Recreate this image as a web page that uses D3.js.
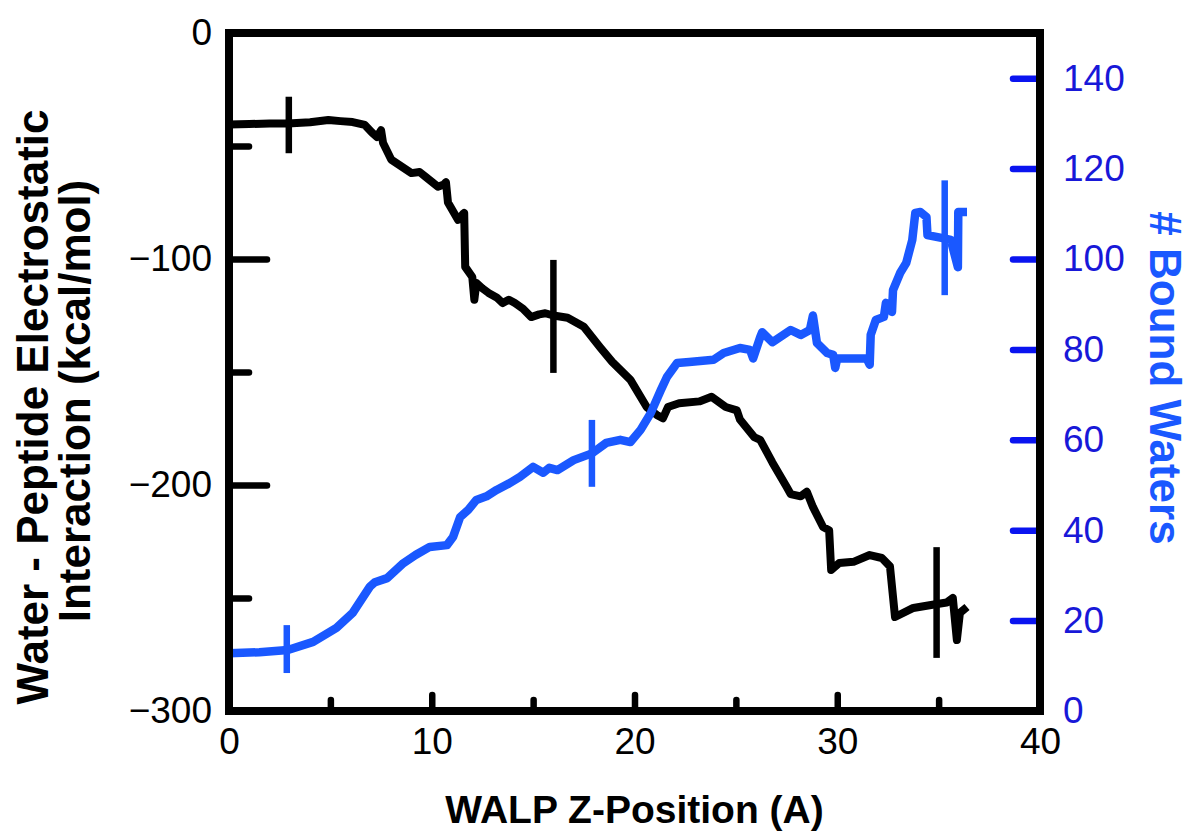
<!DOCTYPE html>
<html>
<head>
<meta charset="utf-8">
<script src="https://cdn.jsdelivr.net/npm/d3@7"></script>
<style>
  body { margin: 0; background: #fff; }
  svg { display: block; font-family: "Liberation Sans", Arial, Helvetica, sans-serif; }
</style>
</head>
<body>
<svg width="1191" height="834"></svg>
<script>
// electrostatic interaction (left axis)
const zEnergy = [0, 1, 2, 2.9, 4, 4.9, 5.5, 6.1, 6.7, 7.05, 7.3, 7.5, 7.6, 8.0, 8.5, 9.0, 9.4, 9.7, 10.3, 10.6, 10.7, 10.8,
  11.3, 11.55, 11.6, 11.65, 12.0, 12.1, 12.2, 12.5, 12.8, 13.2, 13.5, 13.8, 14.1, 14.5, 14.9, 15.3, 15.6, 16.0, 16.7,
  17.5, 18.3, 18.9, 19.8, 20.6, 21.1, 21.4, 21.65, 22.2, 23.2, 23.8, 24.5, 25.05, 25.2, 25.9, 26.2, 26.8, 27.5, 27.7,
  28.2, 28.5, 28.8, 29.3, 29.6, 29.7, 30.1, 30.8, 31.6, 32.2, 32.6, 32.85, 33.75, 34.7, 35.4, 35.7, 35.9, 36.05, 36.4];
const energy = [-40.5, -40.3, -40, -40, -39.5, -38.5, -39, -39.4, -40.7, -44, -46, -43, -48.7, -56, -59, -62, -61.5, -63.7,
  -68, -67, -66, -75, -82.7, -80, -79.6, -103.5, -108, -118, -110.6, -113, -115, -117, -119.5, -118, -119.5, -122,
  -125.7, -124.5, -124, -125, -126, -130, -139, -145.5, -153.5, -165.5, -169, -170.5, -165.5, -163.8, -163, -161,
  -165.5, -167, -171, -178.8, -180, -190, -200.8, -204, -205, -203, -209.7, -218.6, -220, -237.6, -234.5, -234,
  -231, -232.3, -236, -258.4, -254.4, -253, -252, -250, -268.6, -256.6, -254];

// bound waters (right axis)
const zWaters = [0, 1.5, 2.9, 4.15, 5.3, 6.1, 6.95, 7.2, 7.8, 8.6, 9.2, 9.9, 10.75, 11.05, 11.4, 11.8, 12.2, 12.7, 13.2,
  13.8, 14.35, 15.0, 15.5, 15.8, 16.2, 17.0, 17.9, 18.6, 19.3, 19.8, 20.3, 20.8, 21.3, 21.6, 22.1, 22.7, 23.9, 24.4,
  25.2, 25.7, 25.85, 26.2, 26.3, 26.8, 27.7, 28.2, 28.65, 28.8, 29.0, 29.5, 29.8, 29.9, 30.0, 30.8, 31.45, 31.6,
  31.65, 31.9, 32.3, 32.4, 32.7, 32.75, 33.1, 33.4, 33.7, 33.85, 34.1, 34.4, 34.45, 35.2, 35.6, 35.95, 35.97, 36.4];
const waters = [12.8, 13, 13.5, 15.3, 18.4, 21.7, 27.5, 28.5, 29.4, 32.7, 34.5, 36.3, 36.7, 38.5, 42.9, 44.5, 46.7,
  47.5, 48.9, 50.3, 51.8, 54, 52.7, 53.8, 53.3, 55.5, 57, 59.3, 60, 59.5, 62.2, 65.9, 71, 73.9, 77, 77.2, 77.7, 79.2,
  80.3, 79.9, 78, 82.7, 83.8, 81.6, 84.3, 83.2, 84.3, 87.5, 81.4, 79.2, 78.8, 75.9, 78, 78, 78, 76.6,
  83.2, 86.5, 87.2, 90.3, 88.3, 93.1, 96.9, 99.1, 104.2, 110.2, 110.4, 109.3, 105.3, 104.6, 104.2, 98.2, 110.4, 110.4];

// error bars
const errEnergyZ = [2.95, 16.0, 34.9];
const errEnergyMid = [-40.7, -125.4, -252];
const errEnergyHalf = [12.5, 25, 24.5];
const errWatersZ = [2.85, 17.9, 35.3];
const errWatersMid = [13.7, 57, 104.7];
const errWatersHalf = [5.3, 7.4, 12.7];

const xTicks = [0, 10, 20, 30, 40];
const xMinor = [5, 15, 25, 35];
const leftTicks = [0, -100, -200, -300];
const leftMinor = [-50, -150, -250];
const rightTicks = [0, 20, 40, 60, 80, 100, 120, 140];

const plotLeft = 229, plotRight = 1040, plotTop = 33, plotBottom = 711;
const black = "#000", blue = "#1a58ff", tickBlue = "#0a14f0", labelBlue = "#1818d8";

const svg = d3.select("svg");

const x = d3.scaleLinear().domain([0, 40]).range([plotLeft, plotRight]);
const yL = d3.scaleLinear().domain([-300, 0]).range([plotBottom, plotTop]);
const yR = d3.scaleLinear().domain([0, 150]).range([plotBottom, plotTop]);

function styleAxis(g, color, size) {
  g.select(".domain").remove();
  g.selectAll(".tick line").attr("stroke", color).attr("stroke-width", 6.5).attr("stroke-linecap", "round");
  g.selectAll(".tick text").attr("fill", color).style("font-size", size + "px");
}

// data lines
svg.append("path")
  .datum(zEnergy.map((z, i) => [z, energy[i]]))
  .attr("fill", "none").attr("stroke", black).attr("stroke-width", 8)
  .attr("stroke-linejoin", "round")
  .attr("d", d3.line().x(d => x(d[0])).y(d => yL(d[1])));

svg.append("g").selectAll("line")
  .data(errEnergyZ)
  .enter().append("line")
  .attr("x1", d => x(d)).attr("x2", d => x(d))
  .attr("y1", (d, i) => yL(errEnergyMid[i] + errEnergyHalf[i]))
  .attr("y2", (d, i) => yL(errEnergyMid[i] - errEnergyHalf[i]))
  .attr("stroke", black).attr("stroke-width", 6.5);

svg.append("path")
  .datum(zWaters.map((z, i) => [z, waters[i]]))
  .attr("fill", "none").attr("stroke", blue).attr("stroke-width", 8.5)
  .attr("stroke-linejoin", "round")
  .attr("d", d3.line().x(d => x(d[0])).y(d => yR(d[1])));

svg.append("g").selectAll("line")
  .data(errWatersZ)
  .enter().append("line")
  .attr("x1", d => x(d)).attr("x2", d => x(d))
  .attr("y1", (d, i) => yR(errWatersMid[i] + errWatersHalf[i]))
  .attr("y2", (d, i) => yR(errWatersMid[i] - errWatersHalf[i]))
  .attr("stroke", blue).attr("stroke-width", 6.5);

// axes (ticks point inward)
svg.append("g")
  .attr("transform", `translate(0,${plotBottom})`)
  .call(d3.axisBottom(x).tickValues(xTicks).tickSize(-16).tickPadding(17).tickFormat(d3.format("d")))
  .call(g => styleAxis(g, black, 37));
svg.append("g")
  .attr("transform", `translate(0,${plotBottom})`)
  .call(d3.axisBottom(x).tickValues(xMinor).tickSize(-11).tickFormat(""))
  .call(g => styleAxis(g, black, 37));

svg.append("g")
  .attr("transform", `translate(${plotLeft},0)`)
  .call(d3.axisLeft(yL).tickValues(leftTicks).tickSize(-38).tickPadding(17))
  .call(g => styleAxis(g, black, 37));
svg.append("g")
  .attr("transform", `translate(${plotLeft},0)`)
  .call(d3.axisLeft(yL).tickValues(leftMinor).tickSize(-20).tickFormat(""))
  .call(g => styleAxis(g, black, 37));

svg.append("g")
  .attr("transform", `translate(${plotRight},0)`)
  .call(d3.axisRight(yR).tickValues(rightTicks).tickSize(-27).tickPadding(23))
  .call(g => styleAxis(g, tickBlue, 37))
  .call(g => g.selectAll(".tick text").attr("fill", labelBlue));

// frame
svg.append("rect")
  .attr("x", plotLeft).attr("y", plotTop)
  .attr("width", plotRight - plotLeft).attr("height", plotBottom - plotTop)
  .attr("fill", "none").attr("stroke", black).attr("stroke-width", 8);

// titles
svg.append("text")
  .attr("x", (plotLeft + plotRight) / 2).attr("y", 823)
  .attr("text-anchor", "middle")
  .style("font-size", "39px").style("font-weight", "bold")
  .text("WALP Z-Position (A)");

const midL = 407;
svg.append("text")
  .attr("transform", `translate(48,${midL}) rotate(-90)`)
  .attr("text-anchor", "middle")
  .style("font-size", "44px").style("font-weight", "bold")
  .text("Water - Peptide Electrostatic");
svg.append("text")
  .attr("transform", `translate(90,${midL - 6}) rotate(-90)`)
  .attr("text-anchor", "middle")
  .style("font-size", "44px").style("font-weight", "bold")
  .text("Interaction (kcal/mol)");

svg.append("text")
  .attr("transform", `translate(1150,378) rotate(90)`)
  .attr("text-anchor", "middle")
  .attr("fill", blue)
  .style("font-size", "44px").style("font-weight", "bold")
  .text("# Bound Waters");
</script>
</body>
</html>
